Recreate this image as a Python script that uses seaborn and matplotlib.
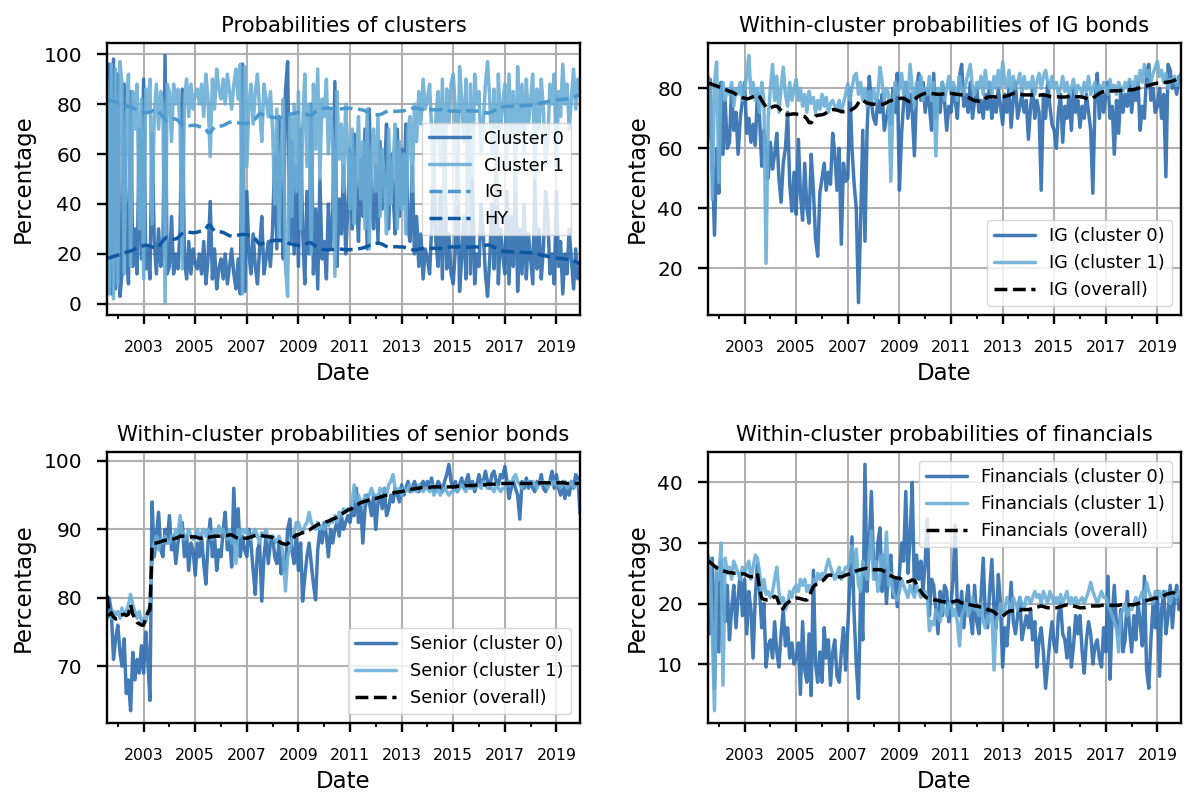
import matplotlib
matplotlib.use("Agg")
import matplotlib.pyplot as plt
import matplotlib.dates as mdates
from matplotlib.ticker import FixedLocator
import pandas as pd
import seaborn as sns
import datetime as dt

# ---------------- data (monthly, Aug 2001 - Dec 2019, percent) ----------------
months = pd.date_range("2001-08-01", "2019-12-01", freq="MS")

cluster0 = [
    10, 96, 4, 98, 6,
    92, 3, 12, 88, 25, 8, 85, 15, 30, 12, 70, 18,
    90, 14, 22, 10, 68, 25, 12, 30, 15, 20, 99.5, 12,
    15, 35, 12, 20, 14, 30, 86, 18, 10, 25, 12, 22,
    16, 14, 20, 12, 25, 8, 18, 41, 10, 22, 6, 14,
    18, 10, 20, 8, 15, 22, 12, 6, 18, 4, 96, 5,
    45, 20, 12, 28, 15, 8, 22, 35, 12, 18, 25, 15,
    30, 60, 22, 75, 40, 18, 85, 97, 25, 65, 20, 55,
    15, 70, 30, 8, 45, 20, 80, 12, 38, 6, 50, 18,
    25, 10, 40, 22, 35, 89, 15, 42, 28, 55, 20, 38,
    62, 30, 68, 45, 25, 58, 35, 70, 22, 78, 40, 30,
    55, 25, 65, 38, 50, 72, 30, 60, 45, 28, 70, 35,
    62, 40, 72, 30, 25, 55, 20, 35, 15, 28, 10, 22,
    18, 12, 30, 55, 25, 15, 45, 10, 65, 14, 28, 12,
    8, 22, 60, 5, 18, 35, 10, 72, 12, 50, 8, 20,
    15, 40, 28, 12, 3, 18, 40, 14, 60, 8, 30, 20,
    12, 45, 8, 35, 15, 55, 5, 30, 12, 40, 10, 28,
    18, 8, 50, 14, 30, 10, 22, 45, 35, 12, 20, 8,
    45, 15, 25, 4, 20, 12, 30, 18, 6, 22, 10, 14,
]
cluster1 = [
    90, 4, 96, 2, 94,
    8, 97, 88, 12, 75, 92, 15, 85, 70, 88, 30, 82,
    10, 86, 78, 90, 32, 75, 88, 70, 85, 80, 0.5, 88,
    85, 65, 88, 80, 86, 70, 14, 82, 90, 75, 88, 78,
    84, 86, 80, 88, 75, 92, 82, 59, 90, 78, 94, 86,
    82, 90, 80, 92, 85, 78, 88, 94, 82, 96, 4, 95,
    55, 80, 88, 72, 85, 92, 78, 65, 88, 82, 75, 85,
    70, 40, 78, 25, 60, 82, 15, 3, 75, 35, 80, 45,
    85, 30, 70, 92, 55, 80, 20, 88, 62, 94, 50, 82,
    75, 90, 60, 78, 65, 11, 85, 58, 72, 45, 80, 62,
    38, 70, 32, 55, 75, 42, 65, 30, 78, 22, 60, 70,
    45, 75, 35, 62, 50, 28, 70, 40, 55, 72, 30, 65,
    38, 60, 28, 70, 75, 45, 80, 65, 85, 72, 90, 78,
    82, 88, 70, 45, 75, 85, 55, 90, 35, 86, 72, 88,
    92, 78, 40, 95, 82, 65, 90, 28, 88, 50, 92, 80,
    85, 60, 72, 88, 97, 82, 60, 86, 40, 92, 70, 80,
    88, 55, 92, 65, 85, 45, 95, 70, 88, 60, 90, 72,
    82, 92, 50, 86, 70, 90, 78, 55, 65, 88, 80, 92,
    55, 85, 75, 96, 80, 88, 70, 82, 94, 78, 90, 86,
]
ig_overall = [
    81.5, 81.6, 81.3, 81.0, 80.8,
    80.5, 80.2, 79.9, 79.6, 79.3, 79.0, 78.8, 78.5, 78.0, 77.6, 77.2, 76.9,
    76.7, 76.5, 76.6, 76.9, 77.2, 77.5, 77.8, 77.2, 76.0, 74.8, 73.8, 73.3,
    73.5, 73.8, 74.1, 74.0, 73.5, 72.6, 71.8, 71.3, 71.2, 71.3, 71.4, 71.5,
    71.4, 71.3, 71.0, 70.8, 70.6, 69.8, 68.6, 68.5, 69.8, 70.8, 71.0, 71.1,
    71.2, 71.4, 71.8, 72.3, 72.7, 72.9, 72.9, 72.7, 72.5, 72.3, 72.2, 72.2,
    72.3, 72.6, 73.0, 73.4, 74.0, 75.2, 76.1, 76.0, 75.5, 75.1, 74.9, 74.8,
    74.7, 74.6, 74.5, 74.5, 74.6, 74.8, 75.2, 75.6, 75.9, 76.1, 76.3, 76.5,
    76.6, 76.7, 76.6, 76.3, 75.8, 75.5, 75.6, 76.2, 76.9, 77.4, 77.8, 78.1,
    78.3, 78.4, 78.4, 78.3, 78.2, 78.1, 78.0, 78.0, 78.1, 78.2, 78.3, 78.3,
    78.3, 78.2, 78.1, 78.0, 77.9, 77.8, 77.6, 77.3, 77.0, 76.6, 76.2, 75.9,
    75.8, 75.7, 75.8, 76.1, 76.6, 77.0, 77.2, 77.2, 77.2, 77.1, 77.1, 77.2,
    77.2, 77.3, 77.5, 77.7, 78.0, 78.3, 78.4, 78.3, 78.1, 77.9, 77.8, 77.8,
    77.8, 77.8, 77.8, 77.7, 77.7, 77.7, 77.8, 77.8, 77.7, 77.5, 77.3, 77.2,
    77.2, 77.2, 77.2, 77.1, 77.1, 77.1, 77.2, 77.3, 77.3, 77.2, 77.2, 77.2,
    77.2, 77.1, 76.9, 76.6, 76.4, 76.5, 76.8, 77.3, 77.8, 78.3, 78.7, 78.9,
    79.0, 79.1, 79.1, 79.1, 79.2, 79.2, 79.2, 79.3, 79.3, 79.4, 79.5, 79.5,
    79.5, 79.6, 79.8, 80.0, 80.2, 80.4, 80.6, 80.8, 81.0, 81.2, 81.4, 81.6,
    81.7, 81.7, 81.8, 81.9, 82.0, 82.1, 82.2, 82.4, 82.7, 83.1, 83.5, 83.9,
]
hy_overall = [
    18.5, 18.4, 18.7, 19.0, 19.2,
    19.5, 19.8, 20.1, 20.4, 20.7, 21.0, 21.2, 21.5, 22.0, 22.4, 22.8, 23.1,
    23.3, 23.5, 23.4, 23.1, 22.8, 22.5, 22.2, 22.8, 24.0, 25.2, 26.2, 26.7,
    26.5, 26.2, 25.9, 26.0, 26.5, 27.4, 28.2, 28.7, 28.8, 28.7, 28.6, 28.5,
    28.6, 28.7, 29.0, 29.2, 29.4, 30.2, 31.4, 31.5, 30.2, 29.2, 29.0, 28.9,
    28.8, 28.6, 28.2, 27.7, 27.3, 27.1, 27.1, 27.3, 27.5, 27.7, 27.8, 27.8,
    27.7, 27.4, 27.0, 26.6, 26.0, 24.8, 23.9, 24.0, 24.5, 24.9, 25.1, 25.2,
    25.3, 25.4, 25.5, 25.5, 25.4, 25.2, 24.8, 24.4, 24.1, 23.9, 23.7, 23.5,
    23.4, 23.3, 23.4, 23.7, 24.2, 24.5, 24.4, 23.8, 23.1, 22.6, 22.2, 21.9,
    21.7, 21.6, 21.6, 21.7, 21.8, 21.9, 22.0, 22.0, 21.9, 21.8, 21.7, 21.7,
    21.7, 21.8, 21.9, 22.0, 22.1, 22.2, 22.4, 22.7, 23.0, 23.4, 23.8, 24.1,
    24.2, 24.3, 24.2, 23.9, 23.4, 23.0, 22.8, 22.8, 22.8, 22.9, 22.9, 22.8,
    22.8, 22.7, 22.5, 22.3, 22.0, 21.7, 21.6, 21.7, 21.9, 22.1, 22.2, 22.2,
    22.2, 22.2, 22.2, 22.3, 22.3, 22.3, 22.2, 22.2, 22.3, 22.5, 22.7, 22.8,
    22.8, 22.8, 22.8, 22.9, 22.9, 22.9, 22.8, 22.7, 22.7, 22.8, 22.8, 22.8,
    22.8, 22.9, 23.1, 23.4, 23.6, 23.5, 23.2, 22.7, 22.2, 21.7, 21.3, 21.1,
    21.0, 20.9, 20.9, 20.9, 20.8, 20.8, 20.8, 20.7, 20.7, 20.6, 20.5, 20.5,
    20.5, 20.4, 20.2, 20.0, 19.8, 19.6, 19.4, 19.2, 19.0, 18.8, 18.6, 18.4,
    18.3, 18.3, 18.2, 18.1, 18.0, 17.9, 17.8, 17.6, 17.3, 16.9, 16.5, 16.1,
]
ig_c0 = [
    63, 83, 55, 31, 60,
    45, 82, 58, 76, 60, 62, 80, 66, 72, 58, 70, 76,
    82, 65, 70, 62, 68, 61, 78, 70, 54, 66, 60, 50,
    62, 53, 58, 65, 50, 42, 55, 60, 72, 48, 39, 52,
    38, 63, 45, 36, 55, 40, 35, 58, 46, 30, 24, 45,
    50, 55, 46, 52, 48, 65, 58, 46, 60, 28, 55, 49,
    50, 80, 60, 48, 40, 8.5, 35, 66, 29, 66, 84, 75,
    70, 68, 76, 72, 78, 66, 70, 74, 68, 80, 72, 85,
    46, 65, 75, 82, 70, 78, 72, 57.5, 80, 85, 76, 82,
    72, 80, 74, 66, 85, 70, 78, 72, 82, 76, 66, 74,
    72, 80, 76, 70, 84, 88, 74, 78, 72, 82, 70, 76,
    80, 72, 76, 70, 78, 73, 82, 70, 76, 72, 80, 74,
    68, 78, 72, 80, 67, 76, 82, 70, 74, 78, 72, 76,
    63, 74, 80, 70, 76, 72, 46, 78, 70, 82, 74, 68,
    66, 60, 72, 78, 62, 74, 70, 78, 66, 80, 72, 76,
    67, 74, 70, 78, 72, 66, 45, 76, 85, 70, 80, 72,
    78, 82, 70, 74, 58, 76, 65, 80, 72, 78, 74, 82,
    72, 80, 76, 82, 66, 74, 70, 85, 88, 76, 80, 72,
    74, 80, 70, 78, 50.5, 88, 86, 80, 82, 78, 84, 84,
]
ig_c1 = [
    84, 80, 43, 82, 88.8,
    48.6, 80, 82, 76, 80, 78, 82, 74, 80, 78, 82, 76,
    80, 84, 91, 78, 82, 76, 80, 72, 82, 76, 21.6, 70,
    80, 88, 76, 84, 72, 80, 87, 78, 74, 82, 76, 80,
    83, 76, 80, 74, 78, 72, 79, 75, 77, 72, 76, 73,
    78, 74, 77, 72, 75, 76, 74, 73, 76, 72, 75, 78,
    81.6, 76, 80, 84, 85, 78, 82, 76, 80, 74, 79, 76,
    80, 75, 78, 87, 82, 76, 80, 78, 49, 74, 82, 78,
    80, 85, 78, 82, 76, 88, 80, 74, 82, 78, 84, 76,
    80, 78, 84, 76, 82, 57.4, 80, 78, 82, 76, 80, 84,
    78, 82, 80, 76, 84, 80, 78, 82, 85, 88, 80, 78,
    82, 80, 84, 78, 86, 80, 82, 78, 84, 80, 86, 80,
    88.8, 82, 80, 86, 78, 84, 80, 82, 85, 78, 84, 80,
    82, 80, 84, 78, 82, 85, 80, 84, 86, 82, 80, 84,
    80, 82, 78, 80, 84, 79, 82, 78, 80, 83, 78, 81,
    80, 78, 82, 79, 84, 78, 80, 82, 78, 81, 79, 82,
    80, 78, 83, 79, 81, 78, 82, 80, 79, 82, 80, 83,
    82, 80, 84, 81, 86, 82, 88, 84, 86, 82, 85, 87,
    89, 84, 86, 82, 85, 80, 83, 82, 84, 81, 83, 85,
]
senior_c0 = [
    77, 80, 78, 71, 74,
    76, 72, 70, 74, 66, 68, 63.5, 72, 68, 71, 69, 73,
    69, 75, 71, 65, 94, 86, 89, 92.5, 87, 86, 90, 88,
    92, 87, 89, 85, 88, 90, 91, 86, 89, 84, 88, 87,
    83.3, 88, 86, 89, 85, 82, 88, 91.5, 86, 89, 84, 87,
    86, 90, 92.5, 87, 89, 84.5, 96, 88, 93, 86, 89, 87,
    86, 90, 88, 84, 80.5, 87, 88, 79.5, 86, 89, 85, 88,
    89, 86, 85, 88, 83.5, 86, 84, 90, 91.5, 87, 85, 89,
    84, 88, 79.5, 83, 86, 88, 85, 82, 79.7, 87, 90, 88,
    91, 89, 86, 90, 88, 90, 91, 89, 92, 90, 91, 92,
    91, 93, 92, 96, 91, 94, 88, 93, 95, 94, 92, 95,
    90, 94, 95, 93, 96, 92, 93, 95, 94, 96, 95, 94,
    96.5, 95, 96, 97, 95.5, 96, 97, 96, 95.5, 96.5, 97, 96,
    97, 96, 97.5, 95.5, 96, 97, 96.5, 95.5, 97, 98, 99.5, 97,
    96, 97, 95.5, 96.5, 97.5, 96, 97, 98, 96, 97, 95.5, 96.5,
    98, 96.5, 97, 98.5, 97, 96, 98, 98.5, 97, 96.5, 98, 97.5,
    99.2, 97, 94.5, 96, 97, 96, 95, 91.5, 97, 96, 97.5, 96,
    97, 96, 95.5, 97, 96.5, 98, 96, 95.5, 96.5, 97, 98.5, 96,
    98, 96, 95, 97, 94.5, 96, 95, 97, 96, 98, 97.5, 92.3,
]
senior_c1 = [
    78, 77.5, 77, 78, 77.5,
    78, 77, 78.5, 77.5, 78, 79, 80.5, 79, 78, 77, 78, 76.5,
    77, 76.5, 78, 79, 85, 88, 89, 87, 88.5, 88, 89, 88,
    88, 89, 88.5, 90, 89, 92, 89.5, 88.5, 89, 90, 89, 88.5,
    89, 90, 88.5, 89.5, 90, 89, 90, 89.5, 88.5, 90, 89, 90.5,
    89.5, 90, 89, 88.5, 90, 88, 89, 85, 90, 89, 90, 89.5,
    90, 89, 88.5, 89.5, 90, 89, 88, 89.5, 89, 90, 88.5, 89,
    89, 88.5, 88, 89, 88, 86, 81, 86, 87, 88.5, 89.5, 91,
    91, 90, 89.5, 90.5, 91, 92.5, 91, 90.5, 90, 91, 90, 90.5,
    90, 91, 90.5, 91.5, 91, 92, 91, 92.5, 92, 93, 92.5, 93,
    93, 94, 96.5, 94, 95, 94, 93.5, 95, 94.5, 95, 96, 95,
    95, 94.5, 96, 95.5, 96, 95, 96.5, 97, 98, 96, 95.5, 96,
    95, 96, 95.5, 96, 96.5, 95.5, 96, 95.5, 96.5, 96, 95.5, 96,
    96, 95.5, 96.5, 95, 95.5, 96, 95, 95.5, 96, 95.5, 95, 95.5,
    95.5, 96, 95.5, 96, 96.5, 96, 95.5, 96.5, 96, 96.5, 96, 96.5,
    96.5, 96, 97, 96.5, 96, 96.5, 96, 95.5, 96.5, 96, 95.5, 96,
    96, 96.5, 97, 96.5, 97.5, 98, 97, 96.5, 96, 97, 96.5, 97,
    96.5, 97, 96.5, 96, 97, 96.5, 97, 96.5, 96, 97, 96.5, 97,
    96.5, 97, 96, 96.5, 97, 96, 96.5, 97, 96, 96.5, 97, 96,
]
senior_overall = [
    80.3, 77.5, 77.8, 77.2, 76.9,
    77.0, 77.4, 77.5, 77.6, 77.4, 77.6, 79.0, 77.6, 77.0, 76.4, 76.2, 76.0,
    76.0, 77.1, 77.8, 78.3, 87.5, 88.0, 88.0, 88.1, 88.2, 88.3, 88.4, 88.4,
    88.4, 88.5, 88.6, 88.7, 88.8, 89.0, 89.0, 89.0, 88.9, 88.9, 88.9, 88.9,
    88.9, 88.8, 88.7, 88.7, 88.8, 88.8, 88.8, 88.9, 88.9, 89.0, 89.0, 89.0,
    89.0, 89.0, 89.1, 89.1, 89.2, 89.2, 89.0, 88.8, 88.7, 88.6, 88.6, 88.7,
    88.7, 88.8, 88.9, 89.0, 89.1, 89.2, 89.2, 89.1, 89.0, 89.0, 88.9, 88.9,
    88.8, 88.6, 88.4, 88.2, 88.0, 87.9, 87.8, 87.9, 88.2, 88.6, 88.9, 89.2,
    89.2, 89.4, 89.5, 89.6, 89.8, 89.9, 90.1, 90.3, 90.5, 90.7, 90.8, 90.9,
    91.0, 91.1, 91.2, 91.3, 91.5, 91.6, 91.8, 92.0, 92.2, 92.4, 92.6, 92.8,
    92.9, 93.1, 93.3, 93.5, 93.7, 93.9, 94.0, 94.1, 94.2, 94.3, 94.4, 94.5,
    94.5, 94.6, 94.7, 94.8, 94.9, 95.0, 95.1, 95.2, 95.3, 95.4, 95.4, 95.5,
    95.5, 95.6, 95.7, 95.8, 95.8, 95.9, 95.9, 96.0, 96.0, 96.1, 96.1, 96.1,
    96.1, 96.1, 96.2, 96.2, 96.2, 96.2, 96.2, 96.2, 96.2, 96.2, 96.2, 96.2,
    96.2, 96.2, 96.3, 96.3, 96.3, 96.3, 96.4, 96.4, 96.4, 96.4, 96.4, 96.5,
    96.5, 96.5, 96.5, 96.5, 96.6, 96.6, 96.6, 96.6, 96.6, 96.7, 96.7, 96.7,
    96.7, 96.7, 96.7, 96.7, 96.7, 96.7, 96.7, 96.7, 96.7, 96.7, 96.7, 96.7,
    96.7, 96.7, 96.7, 96.8, 96.8, 96.8, 96.8, 96.8, 96.8, 96.8, 96.8, 96.8,
    96.8, 96.8, 96.8, 96.8, 96.8, 96.7, 96.7, 96.7, 96.7, 96.7, 96.7, 96.7,
]
fin_c0 = [
    18, 15, 27.5, 6, 25,
    12, 27, 20, 17, 23, 14, 19, 23, 16, 21, 25, 18,
    24, 15, 22, 19, 11, 21, 26.5, 22, 16, 20, 9.5, 13,
    14, 11, 17, 12, 9.5, 15, 19, 13, 16, 11, 13.5, 10,
    11, 13.5, 5, 17, 9, 7, 15, 4.8, 25.5, 10, 7, 12,
    7, 16, 11, 14, 6.5, 12, 14, 8, 7, 12, 16, 9,
    16, 24, 31, 18, 10, 4.3, 22, 14, 43, 22, 30, 38.5,
    26, 24, 30, 32.5, 22, 28, 20, 26, 28, 21, 24, 19.5,
    25, 30, 27, 38.5, 25, 31, 40, 22, 28, 24, 27, 22,
    27, 34, 18, 24, 23, 19, 15, 22, 18, 23, 22, 17,
    20, 24, 33, 19, 18, 22, 16, 20, 23, 18, 15, 23,
    17, 15, 21, 27.5, 18, 16, 22, 27.3, 19, 16, 24.8, 20,
    9.5, 16, 13, 18, 23.5, 17, 15, 18, 21, 14, 16, 18,
    16, 19, 14, 17, 9.5, 14, 16, 12, 6, 10, 14, 17,
    13, 12, 18, 20, 15, 14, 11, 16, 9.5, 13, 18, 15,
    18, 12, 8.5, 14, 17, 15, 10, 13, 14, 11, 9.5, 16,
    12, 24.5, 7.5, 18, 23, 16, 15, 19, 12, 14, 22, 16,
    12, 18, 14, 20, 17, 13, 24.5, 9, 6, 14, 20, 16,
    22, 8, 19, 22, 15, 18, 23, 16, 21, 23, 19, 19,
]
fin_c1 = [
    28, 27, 15, 2.3, 26,
    24, 30, 6.5, 27.5, 25, 26, 24, 27, 26, 25, 24, 26,
    25, 26, 27, 24, 26, 28, 27.5, 25, 22, 24, 21.5, 22,
    21, 22, 24, 26, 22, 20, 21, 19, 20, 22, 21, 22.5,
    23, 22, 24, 23, 24, 22, 23, 22, 24, 23, 25, 24,
    25, 24, 26, 27.3, 26, 25, 24, 25, 26, 24, 25, 26,
    26, 27, 29.5, 25, 29, 23, 22, 27, 25, 24, 28, 32,
    24, 27, 22, 24, 28, 26, 31.8, 23, 25, 22, 21, 20.5,
    22, 24, 23, 22, 21, 23, 22, 21, 23, 22, 21, 22,
    22, 21, 15.5, 17, 16.5, 19, 18, 17, 20, 19, 18, 20,
    20, 18, 19, 17, 13, 18, 19, 20, 18, 19, 21, 19,
    19, 18, 20, 17, 16, 18, 17, 19, 9, 17, 18, 20,
    18, 19, 21, 20, 19, 21, 20, 19, 21, 20, 19, 21,
    21, 20, 21, 22, 21, 21.5, 20, 22, 21, 20, 22, 21,
    20, 21, 20, 21.5, 20, 21, 22, 20, 21, 20, 21, 20,
    20.5, 21, 20, 21, 22, 23.5, 22, 21, 20, 21, 22, 21,
    21, 20, 19, 18, 17, 16, 12, 18, 19, 20, 18, 19,
    19, 20, 21, 20, 21, 22, 21, 23.5, 22, 21, 20, 22,
    21.5, 22, 21, 21.5, 22, 21, 20, 22, 21.5, 21, 22, 21,
]
fin_overall = [
    27.1, 26.8, 26.5, 26.2, 25.9,
    25.8, 25.6, 25.4, 25.3, 25.2, 25.1, 25.1, 25.0, 25.0, 24.9, 24.9, 24.9,
    24.9, 24.7, 24.5, 24.4, 24.5, 24.8, 25.0, 22.5, 20.9, 20.7, 20.6, 20.6,
    20.6, 20.9, 21.2, 21.0, 20.0, 19.0, 19.2, 19.8, 20.1, 20.4, 20.6, 20.8,
    20.9, 20.9, 20.8, 20.7, 20.6, 20.6, 21.2, 22.0, 22.8, 23.1, 23.3, 23.5,
    23.7, 24.0, 24.4, 24.7, 24.7, 24.6, 24.5, 24.4, 24.4, 24.4, 24.5, 24.7,
    24.8, 24.9, 25.0, 25.2, 25.4, 25.5, 25.6, 25.7, 25.8, 25.8, 25.7, 25.6,
    25.6, 25.6, 25.6, 25.6, 25.5, 25.3, 25.0, 24.8, 24.6, 24.4, 24.3, 24.2,
    24.2, 24.0, 23.8, 23.6, 23.6, 23.7, 23.9, 23.8, 23.2, 22.5, 22.0, 21.5,
    21.1, 20.9, 20.8, 20.7, 20.6, 20.6, 20.5, 20.4, 20.3, 20.3, 20.2, 20.2,
    20.2, 20.3, 20.4, 20.5, 20.3, 20.1, 20.1, 20.0, 19.9, 19.8, 19.7, 19.6,
    19.6, 19.5, 19.4, 19.3, 19.2, 19.0, 18.9, 18.8, 18.6, 18.3, 18.1, 17.9,
    17.9, 18.2, 18.5, 18.7, 18.8, 18.8, 18.8, 18.9, 18.9, 19.0, 19.0, 19.0,
    19.0, 19.1, 19.2, 19.3, 19.4, 19.5, 19.6, 19.5, 19.4, 19.3, 19.3, 19.3,
    19.3, 19.3, 19.4, 19.5, 19.6, 19.7, 19.8, 19.8, 19.7, 19.6, 19.5, 19.4,
    19.3, 19.3, 19.3, 19.4, 19.5, 19.6, 19.6, 19.6, 19.6, 19.6, 19.7, 19.7,
    19.7, 19.7, 19.7, 19.7, 19.7, 19.7, 19.7, 19.8, 19.8, 19.8, 19.8, 19.8,
    19.8, 19.8, 19.9, 20.0, 20.1, 20.2, 20.4, 20.5, 20.6, 20.7, 20.8, 20.9,
    20.9, 21.0, 21.1, 21.3, 21.5, 21.6, 21.7, 21.8, 21.7, 21.5, 21.4, 21.3,
]

titles = ["Probabilities of clusters",
          "Within-cluster probabilities of IG bonds",
          "Within-cluster probabilities of senior bonds",
          "Within-cluster probabilities of financials"]

# ---------------- style ----------------
sns.set_theme(style="ticks", rc={
    "axes.edgecolor": "black", "axes.linewidth": 1.7,
    "axes.grid": True, "grid.color": "#b0b0b0", "grid.linewidth": 1.5,
    "xtick.major.size": 6.8, "xtick.minor.size": 3.2,
    "ytick.major.size": 7, "xtick.major.width": 1.7, "ytick.major.width": 1.7,
    "xtick.minor.width": 1.3,
    "xtick.color": "black", "ytick.color": "black",
    "axes.labelcolor": "black", "text.color": "black",
})
plt.rcParams["font.family"] = ["DejaVu Sans"]

C0 = "#2e6db0"
C1 = "#6baed6"
CIG = "#4a98cf"
CHY = "#0d58a3"
LW = 2.5
AL = 0.9

fig = plt.figure(figsize=(11.87, 7.96), dpi=100)
W, H = 1187, 796
def pos(l, r, t, b):
    return [l / W, 1 - b / H, (r - l) / W, (b - t) / H]
axes = [fig.add_axes(pos(107, 580, 43, 315)),
        fig.add_axes(pos(708, 1181, 43, 315)),
        fig.add_axes(pos(107, 580, 452, 723)),
        fig.add_axes(pos(708, 1181, 452, 723))]

df = pd.DataFrame({"Date": months})

def line(ax, y, color, label, ls="-", alpha=AL):
    sns.lineplot(x=df["Date"], y=y, ax=ax, color=color, linewidth=LW,
                 linestyle=ls, alpha=alpha, label=label, legend=False)

LEG = dict(fontsize=12.8, handlelength=2.3)

ax = axes[0]
line(ax, cluster0, C0, "Cluster 0")
line(ax, cluster1, C1, "Cluster 1")
line(ax, ig_overall, CIG, "IG", "--", 1.0)
line(ax, hy_overall, CHY, "HY", "--", 1.0)
ax.set_yticks([0, 20, 40, 60, 80, 100])
ax.legend(loc="center right", **LEG)

ax = axes[1]
line(ax, ig_c0, C0, "IG (cluster 0)")
line(ax, ig_c1, C1, "IG (cluster 1)")
line(ax, ig_overall, "black", "IG (overall)", "--", 1.0)
ax.set_yticks([20, 40, 60, 80])
ax.legend(loc="lower right", **LEG)

ax = axes[2]
line(ax, senior_c0, C0, "Senior (cluster 0)")
line(ax, senior_c1, C1, "Senior (cluster 1)")
line(ax, senior_overall, "black", "Senior (overall)", "--", 1.0)
ax.set_yticks([70, 80, 90, 100])
ax.legend(loc="lower right", **LEG)

ax = axes[3]
line(ax, fin_c0, C0, "Financials (cluster 0)")
line(ax, fin_c1, C1, "Financials (cluster 1)")
line(ax, fin_overall, "black", "Financials (overall)", "--", 1.0)
ax.set_yticks([10, 20, 30, 40])
ax.legend(loc="upper right", **LEG)

major = [mdates.date2num(dt.datetime(y, 1, 1)) for y in range(2003, 2020, 2)]
minor = [mdates.date2num(dt.datetime(y, 1, 1)) for y in range(2002, 2020, 2)]
for ax, t in zip(axes, titles):
    ax.set_xlim(months[0], months[-1])
    ax.xaxis.set_major_locator(FixedLocator(major))
    ax.xaxis.set_minor_locator(FixedLocator(minor))
    ax.xaxis.set_major_formatter(mdates.DateFormatter("%Y"))
    ax.tick_params(axis="x", which="major", labelsize=11.3, pad=11)
    ax.tick_params(axis="y", labelsize=14.5, pad=11)
    ax.grid(True, which="major")
    ax.grid(False, which="minor")
    ax.set_title(t, fontsize=15.2, pad=8)
    ax.set_xlabel("Date", fontsize=16.5, labelpad=5)
    ax.set_ylabel("Percentage", fontsize=16.5, labelpad=6)
    for s in ax.spines.values():
        s.set_visible(True)
        s.set_color("black")

fig.savefig("out.png", dpi=100)
